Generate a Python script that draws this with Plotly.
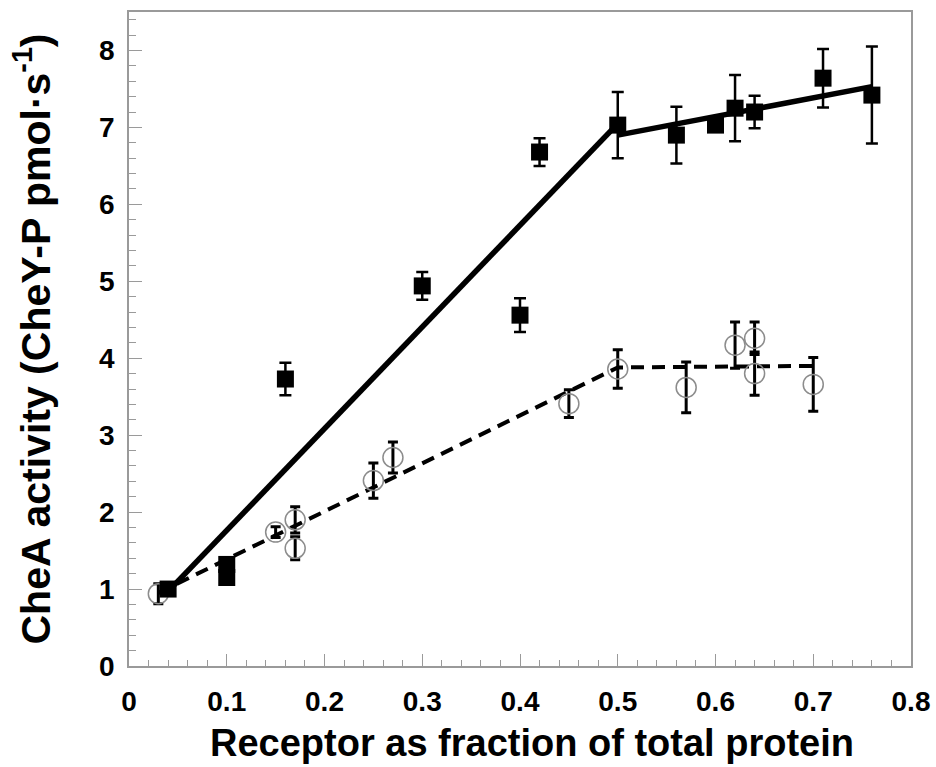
import plotly.graph_objects as go

# Filled squares: receptor fraction, CheA activity, error
sq_x = [0.04, 0.10, 0.10, 0.16, 0.30, 0.40, 0.42, 0.50, 0.56, 0.60, 0.62, 0.64, 0.71, 0.76]
sq_y = [1.00, 1.32, 1.15, 3.73, 4.94, 4.56, 6.68, 7.03, 6.90, 7.03, 7.25, 7.20, 7.64, 7.42]
sq_err = [0.05, 0.06, 0.06, 0.21, 0.18, 0.22, 0.18, 0.43, 0.37, 0.08, 0.43, 0.21, 0.38, 0.63]

# Open circles
ci_x = [0.03, 0.15, 0.17, 0.17, 0.25, 0.27, 0.45, 0.50, 0.57, 0.62, 0.64, 0.64, 0.70]
ci_y = [0.94, 1.74, 1.90, 1.53, 2.41, 2.71, 3.41, 3.86, 3.62, 4.17, 4.26, 3.80, 3.66]
ci_err = [0.13, 0.07, 0.17, 0.15, 0.23, 0.20, 0.18, 0.25, 0.33, 0.30, 0.21, 0.28, 0.35]

# Two-segment fits
fit_sq_x1 = [0.04, 0.50]
fit_sq_y1 = [0.97, 7.05]
fit_sq_x2 = [0.50, 0.76]
fit_sq_y2 = [6.90, 7.53]
fit_ci_x = [0.03, 0.50, 0.70]
fit_ci_y = [0.95, 3.88, 3.90]

x_ticks = [0, 0.1, 0.2, 0.3, 0.4, 0.5, 0.6, 0.7, 0.8]
x_labels = ["0", "0.1", "0.2", "0.3", "0.4", "0.5", "0.6", "0.7", "0.8"]
y_ticks = [0, 1, 2, 3, 4, 5, 6, 7, 8]
y_labels = ["0", "1", "2", "3", "4", "5", "6", "7", "8"]

FONT = "Liberation Sans, Arial, sans-serif"
FRAME = "#9a9a9a"

fig = go.Figure()

fig.add_trace(go.Scatter(
    x=fit_ci_x, y=fit_ci_y, mode="lines",
    line=dict(color="black", width=4, dash="13px,8px"),
    hoverinfo="skip", showlegend=False))

fig.add_trace(go.Scatter(
    x=ci_x, y=ci_y, mode="markers",
    marker=dict(symbol="circle-open", size=20, color="#8c8c8c", line=dict(width=1.5, color="#8c8c8c")),
    error_y=dict(type="data", array=ci_err, visible=True, color="black", thickness=3, width=5),
    showlegend=False))

fig.add_trace(go.Scatter(
    x=fit_sq_x1, y=fit_sq_y1, mode="lines",
    line=dict(color="black", width=5.5),
    hoverinfo="skip", showlegend=False))
fig.add_trace(go.Scatter(
    x=fit_sq_x2, y=fit_sq_y2, mode="lines",
    line=dict(color="black", width=5.5),
    hoverinfo="skip", showlegend=False))

fig.add_trace(go.Scatter(
    x=sq_x, y=sq_y, mode="markers",
    marker=dict(symbol="square", size=17, color="black"),
    error_y=dict(type="data", array=sq_err, visible=True, color="black", thickness=2.5, width=6),
    showlegend=False))

fig.update_layout(
    width=936, height=767,
    margin=dict(l=129, r=25, t=12, b=101),
    paper_bgcolor="white", plot_bgcolor="white",
    font=dict(family=FONT, color="black"),
    xaxis=dict(
        range=[0, 0.8], tickvals=x_ticks, automargin=False,
        ticktext=["<b>%s</b>" % t for t in x_labels],
        ticks="inside", ticklen=12, tickwidth=1, tickcolor=FRAME,
        minor=dict(dtick=0.02, ticks="inside", ticklen=6, tickcolor=FRAME),
        showline=True, linecolor=FRAME, linewidth=1.5, mirror=True,
        showgrid=False, zeroline=False,
        tickfont=dict(size=28, family=FONT, color="black"),
        ticklabelstandoff=10,
    ),
    yaxis=dict(
        range=[0, 8.5], tickvals=y_ticks, automargin=False,
        ticktext=["<b>%s</b>" % t for t in y_labels],
        ticks="inside", ticklen=13, tickwidth=1, tickcolor=FRAME,
        minor=dict(dtick=0.2, ticks="inside", ticklen=7, tickcolor=FRAME),
        showline=True, linecolor=FRAME, linewidth=1.5, mirror=True,
        showgrid=False, zeroline=False,
        tickfont=dict(size=28, family=FONT, color="black"),
        ticklabelstandoff=7,
        title=dict(text="<b>CheA activity (CheY-P pmol·s<sup>-1</sup>)</b>",
                   font=dict(size=41, family=FONT), standoff=36),
    ),
    annotations=[dict(
        text="<b>Receptor as fraction of total protein</b>",
        xref="paper", yref="paper", x=0.515, y=0,
        xanchor="center", yanchor="middle", yshift=-77,
        showarrow=False, font=dict(size=38, family=FONT, color="black"),
    )],
)

fig.write_html("out.html")
